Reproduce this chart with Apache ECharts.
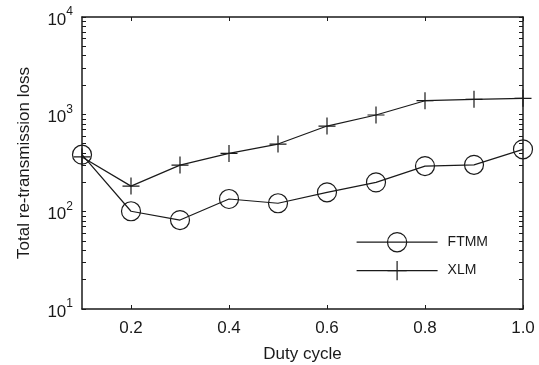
<!DOCTYPE html>
<html>
<head>
<meta charset="utf-8">
<script src="https://cdn.jsdelivr.net/npm/echarts@6/dist/echarts.min.js"></script>
<style>
  html, body { margin: 0; padding: 0; background: #fff; }
  #chart { width: 539px; height: 365px; }
</style>
</head>
<body>
<div id="chart"></div>
<script>
var dutyCycle = [0.1, 0.2, 0.3, 0.4, 0.5, 0.6, 0.7, 0.8, 0.9, 1.0];
var ftmm = [385, 101, 82, 135, 122, 158, 200, 294, 303, 437];
var xlm = [365, 183, 301, 397, 495, 758, 984, 1380, 1426, 1460];
var xTicks = [0.2, 0.4, 0.6, 0.8, 1.0];
var yMajorTicks = [10, 100, 1000, 10000];
var yMinorTicks = [20, 30, 40, 50, 60, 70, 80, 90, 200, 300, 400, 500, 600, 700, 800, 900,
                   2000, 3000, 4000, 5000, 6000, 7000, 8000, 9000];

var font = 'Liberation Sans, Arial, sans-serif';
var ink = '#1a1a1a';
var crossPath = 'path://M10,0L10,20M0,10L20,10';

function pairs(ys) { return dutyCycle.map(function (x, i) { return [x, ys[i]]; }); }

var chart = echarts.init(document.getElementById('chart'), null, { renderer: 'canvas' });
var allYTicks = yMajorTicks.concat(yMinorTicks).sort(function (a, b) { return a - b; });

var axisLine = { show: true, onZero: false, lineStyle: { color: ink, width: 1.5 } };

chart.setOption({
  animation: false,
  backgroundColor: '#fff',
  grid: { left: 82, right: 16, top: 17, bottom: 56, containLabel: false, outerBoundsMode: 'none' },
  legend: {
    orient: 'vertical',
    left: 351, top: 227,
    itemWidth: 81, itemHeight: 24, itemGap: 8,
    lineStyle: { width: 1.2, color: ink },
    itemStyle: { borderWidth: 1.2, borderColor: ink },
    textStyle: { fontFamily: font, fontSize: 14, color: ink, padding: [0, 0, 0, 5] },
    data: ['FTMM', 'XLM']
  },
  xAxis: [{
    type: 'value', min: 0.1, max: 1.0, position: 'bottom',
    name: 'Duty cycle', nameLocation: 'middle', nameGap: 37,
    nameTextStyle: { fontFamily: font, fontSize: 17, color: ink },
    axisLine: axisLine,
    axisTick: { show: true, inside: true, length: 4, customValues: xTicks, lineStyle: { color: ink } },
    axisLabel: { customValues: xTicks, margin: 11, fontFamily: font, fontSize: 17, color: ink,
      formatter: function (v) { return v.toFixed(1); } },
    splitLine: { show: false }
  }, {
    type: 'value', min: 0.1, max: 1.0, position: 'top',
    axisLine: axisLine,
    axisTick: { show: true, inside: true, length: 4, customValues: xTicks, lineStyle: { color: ink } },
    axisLabel: { show: false },
    splitLine: { show: false }
  }],
  yAxis: [{
    type: 'log', logBase: 10, min: 10, max: 10000, position: 'left',
    name: 'Total re-transmission loss', nameLocation: 'middle', nameGap: 49, nameRotate: 90,
    nameTextStyle: { fontFamily: font, fontSize: 17, color: ink },
    axisLine: axisLine,
    axisTick: { show: true, inside: true, length: 4, customValues: allYTicks, lineStyle: { color: ink } },
    axisLabel: {
      customValues: yMajorTicks, margin: 9, color: ink,
      formatter: function (v) { return '{b|10}{s|' + Math.round(Math.log10(v)) + '}'; },
      rich: {
        b: { fontFamily: font, fontSize: 17, color: ink, padding: [6, 0, 0, 0] },
        s: { fontFamily: font, fontSize: 12, color: ink, padding: [0, 0, 10, 0] }
      }
    },
    splitLine: { show: false }
  }, {
    type: 'log', logBase: 10, min: 10, max: 10000, position: 'right',
    axisLine: axisLine,
    axisTick: { show: true, inside: true, length: 4, customValues: allYTicks, lineStyle: { color: ink } },
    axisLabel: { show: false },
    splitLine: { show: false }
  }],
  series: [{
    name: 'FTMM', type: 'line', xAxisIndex: 0, yAxisIndex: 0,
    data: pairs(ftmm),
    symbol: 'circle', symbolSize: 19, showAllSymbol: true,
    lineStyle: { color: ink, width: 1.2 },
    itemStyle: { color: 'rgba(0,0,0,0)', borderColor: ink, borderWidth: 1.2 },
    clip: false
  }, {
    name: 'XLM', type: 'line', xAxisIndex: 0, yAxisIndex: 0,
    data: pairs(xlm),
    symbol: crossPath, symbolSize: 17, showAllSymbol: true,
    lineStyle: { color: ink, width: 1.2 },
    itemStyle: { color: 'rgba(0,0,0,0)', borderColor: ink, borderWidth: 1.2 },
    clip: false
  }]
});
</script>
</body>
</html>
